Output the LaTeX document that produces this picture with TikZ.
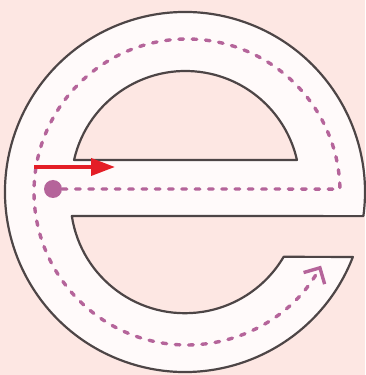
\documentclass[tikz,border=0pt]{standalone}
\usepackage{tikz}
\usepackage{xcolor}
\usetikzlibrary{arrows.meta,calc}
\definecolor{PageBlush}{HTML}{FDE7E3}
\definecolor{LetterFill}{HTML}{FFFAFA}
\definecolor{LetterLine}{HTML}{4D4546}
\definecolor{TraceMagenta}{HTML}{B5649A}
\definecolor{PenRed}{HTML}{E41E26}
\tikzset{
    % Letter body style
    letterbody/.style={
        draw=LetterLine,
        fill=LetterFill,
        line width=2.2pt,
        line join=round,
        even odd rule
    },
    % Dashed stroke trace
    tracepath/.style={
        draw=TraceMagenta,
        line width=3.4pt,
        line cap=round,
        dash pattern=on 4.6pt off 8.7pt,
        -{Straight Barb[length=12pt,width=24pt,line width=3.4pt]}
    },
    % Start dot
    startdot/.style={
        circle,
        fill=TraceMagenta,
        minimum size=18pt,
        inner sep=0pt
    },
    % Red direction arrow
    penarrow/.style={
        -{Triangle[length=24pt,width=17pt]},
        line width=3.8pt,
        draw=PenRed
    }
}
\begin{document}
\begin{tikzpicture}[x=1pt,y=1pt]
        % Background
        \fill[PageBlush] (0,0) rectangle (365,375);
        \useasboundingbox (0,0) rectangle (365,375);

        % Centres of the letter arcs
        \coordinate (outer) at (185,183);
        \coordinate (lowbowl) at (185,176.3);
        \coordinate (eye) at (185.5,189.7);
        \coordinate (ring) at (187,183);

        % Letter e
        \draw[letterbody]
            ($(outer)+(-7.7:180)$) -- ($(lowbowl)+(188.7:114.5)$)
            arc[start angle=188.7, end angle=329.5, radius=114.5]
            -- ($(outer)+(-21.15:180)$)
            arc[start angle=-21.15, end angle=-367.7, radius=180] -- cycle
            ($(eye)+(167.2:114.3)$)
            arc[start angle=167.2, end angle=12.8, radius=114.3] -- cycle;

        % Trace
        \node[startdot] (start) at (53,186) {};
        \coordinate (turn) at ($(ring)+(1.1:153)$);
        \draw[tracepath] (start) -- (turn)
            arc[start angle=1.1, end angle=331.2, radius=153];

        % Direction arrow
        \coordinate (penstart) at (34,208);
        \coordinate (pentip) at (115,208);
        \draw[penarrow] (penstart) -- (pentip);
    \end{tikzpicture}
\end{document}
